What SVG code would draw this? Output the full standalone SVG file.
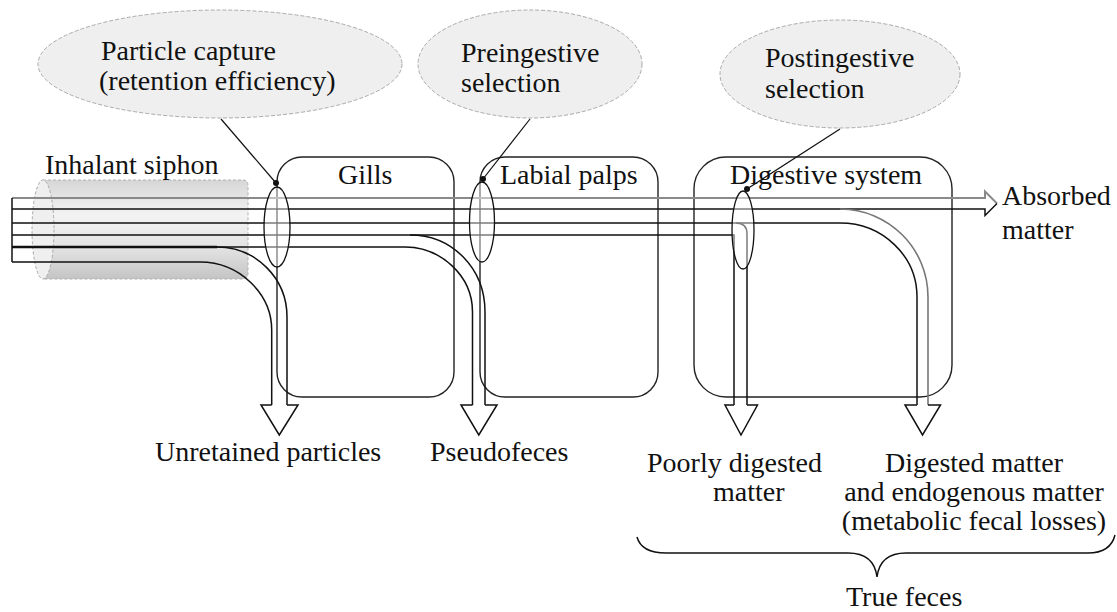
<svg xmlns="http://www.w3.org/2000/svg" width="1117" height="612" viewBox="0 0 1117 612">
<defs>
<style>
.t{font-family:"Liberation Serif","Tinos","Times New Roman","Times","Nimbus Roman","Noto Serif","DejaVu Serif",serif;font-size:28px;fill:#111}
.box{fill:none;stroke:#222;stroke-width:1.4}
.bub{fill:#efefef;stroke:#aaa;stroke-width:1;stroke-dasharray:4 2}
.ln{fill:none;stroke:#111;stroke-width:1.5}
.gr{fill:none;stroke:#8a8a8a;stroke-width:2}
.sel{fill:#ffffff;fill-opacity:0.45;stroke:#111;stroke-width:1.3}
.head{fill:#fff;stroke:#111;stroke-width:1.5;stroke-linejoin:miter}
.ptr{fill:none;stroke:#111;stroke-width:1.2}
</style>
<linearGradient id="cyl" x1="0" y1="0" x2="0" y2="1">
<stop offset="0" stop-color="#d6d6d6"/>
<stop offset="0.35" stop-color="#f3f3f3"/>
<stop offset="0.7" stop-color="#e2e2e2"/>
<stop offset="1" stop-color="#c4c4c4"/>
</linearGradient>
</defs>
<rect width="1117" height="612" fill="#fff"/>

<g id="capture-bubble">
<ellipse class="bub" cx="220" cy="64" rx="182" ry="54"/>
<text class="t" x="101" y="60">Particle capture</text>
<text class="t" x="99" y="90">(retention efficiency)</text>
</g>
<g id="preingestive-bubble">
<ellipse class="bub" cx="530" cy="64" rx="112" ry="54"/>
<text class="t" x="461" y="62">Preingestive</text>
<text class="t" x="461" y="92">selection</text>
</g>
<g id="postingestive-bubble">
<ellipse class="bub" cx="840" cy="74" rx="120" ry="54"/>
<text class="t" x="765" y="67">Postingestive</text>
<text class="t" x="765" y="98">selection</text>
</g>

<g id="siphon">
<path d="M43,180 H243 Q248,180 248,186 V273 Q248,279 243,279 H43 Z" fill="url(#cyl)" stroke="#b0b0b0" stroke-width="1" stroke-dasharray="3 2"/>
<ellipse cx="43" cy="229.5" rx="11" ry="49.5" fill="#efefef" stroke="#aaa" stroke-width="1" stroke-dasharray="3 2"/>
<text class="t" x="45" y="174">Inhalant siphon</text>
</g>

<g id="gills">
<rect class="box" x="277" y="157" width="177" height="240" rx="25"/>
<text class="t" x="338" y="184">Gills</text>
</g>
<g id="labial-palps">
<rect class="box" x="480" y="157" width="178" height="240" rx="25"/>
<text class="t" x="500" y="184">Labial palps</text>
</g>
<g id="digestive-system">
<rect class="box" x="694" y="157" width="258" height="240" rx="32"/>
<text class="t" x="730" y="184">Digestive system</text>
</g>

<g id="connectors">
<path class="gr" d="M12,198 H985 V191.5 L997,203.5"/>
<path class="ln" d="M12,209 H985 V215.5 L997,203.5"/>
<path class="ln" d="M12,198 V262"/>
<path d="M840,209 C888.6,209 928,248.4 928,297 V405" fill="none" stroke="#777" stroke-width="1.6"/>
<path class="ln" d="M12,223 H840 C882.5,223 917,256 917,297 V405"/>
<path class="ln" d="M12,235 H734 V405"/>
<path class="ln" d="M736,223 Q747,223 747,234 V405"/>
<path class="ln" d="M410,235 C452,235 485,268 485,312 V405"/>
<path class="ln" d="M12,247 H405 C440,247 472.5,275 472.5,312 V405"/>
<path d="M12,247 H217" fill="none" stroke="#111" stroke-width="2.6"/>
<path class="ln" d="M217,247 C255.6,247 287,278 287,317 V405"/>
<path class="ln" d="M12,262 H200 C239.7,262 271.7,294 271.7,330 V405"/>
<path class="head" d="M271.7,405 H261 L279.3,435 L298,405 H287"/>
<path class="head" d="M472.5,405 H461 L478.8,435 L497,405 H485"/>
<path class="head" d="M734,405 H725 L741,435 L757.5,405 H747"/>
<path class="head" d="M917,405 H905 L922.5,435 L940.5,405 H928"/>
<ellipse class="sel" cx="277" cy="227" rx="13" ry="40" fill-opacity="0"/>
<ellipse class="sel" cx="482" cy="222" rx="12.5" ry="40"/>
<ellipse class="sel" cx="743" cy="230" rx="11" ry="39" fill-opacity="0.6"/>
<path class="ptr" d="M221,119 L276,183"/>
<path class="ptr" d="M530,119 L483,179"/>
<path class="ptr" d="M840,129 L747,189"/>
<circle cx="276" cy="183" r="3" fill="#111"/>
<circle cx="483" cy="179" r="3" fill="#111"/>
<circle cx="747" cy="189" r="3" fill="#111"/>
<path class="ln" d="M637,537 C640,548 650,553 666,553 H848 C866,553 875,561 877,577 C879,561 888,553 906,553 H1088 C1103,553 1112,547 1115,535"/>
</g>

<g id="labels">
<text class="t" x="1002" y="205">Absorbed</text>
<text class="t" x="1002" y="239">matter</text>
<text class="t" x="155" y="461">Unretained particles</text>
<text class="t" x="430" y="461">Pseudofeces</text>
<text class="t" x="647" y="472">Poorly digested</text>
<text class="t" x="713" y="501">matter</text>
<text class="t" x="974" y="472" text-anchor="middle">Digested matter</text>
<text class="t" x="974" y="501" text-anchor="middle">and endogenous matter</text>
<text class="t" x="974" y="530" text-anchor="middle">(metabolic fecal losses)</text>
<text class="t" x="846" y="606">True feces</text>
</g>
</svg>
